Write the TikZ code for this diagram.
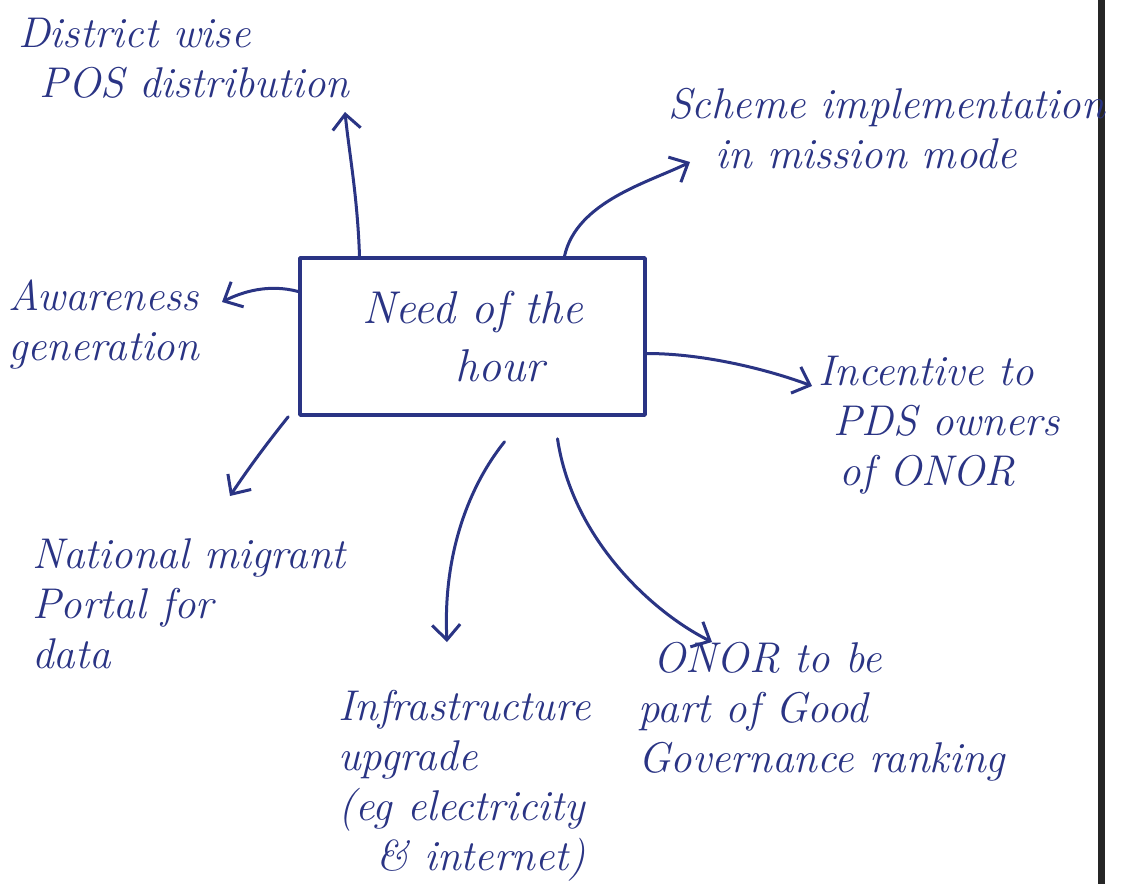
\documentclass[tikz,border=0pt]{standalone}
\usetikzlibrary{arrows.meta}
\definecolor{ink}{RGB}{42,52,132}
\begin{document}
\begin{tikzpicture}[x=1pt,y=-1pt,
  ink/.style={draw=ink,line width=3pt,line cap=round,line join=round},
  link/.style={ink,-{Straight Barb[length=15pt,width=28pt,line width=3pt]}},
  note/.style={text=ink,font=\fontsize{43}{50}\selectfont\itshape,inner sep=0pt},
  hub/.style={ink,line width=3.6pt,minimum width=345pt,minimum height=157pt,
    text=ink,font=\fontsize{46}{58}\selectfont\itshape,align=center}]
\useasboundingbox (0,0) rectangle (1131,884);
\fill[white] (0,0) rectangle (1131,884);
% page edge on the right
\fill[black!85] (1098,0) rectangle (1105,884);

% central box
\node[hub] (box) at (472.5,336.5) {Need of the\\\hspace{1.2em}hour};

% surrounding ideas
\node[note,align=left,anchor=north west] (dist) at (18,18)
  {District wise\\\hspace{0.5em}POS distribution};
\node[note,align=left,anchor=north west] (scheme) at (668,88)
  {Scheme implementation\\\hspace{1.1em}in mission mode};
\node[note,align=left,anchor=north west] (aware) at (8,280)
  {Awareness\\generation};
\node[note,align=left,anchor=north west] (incent) at (818,356)
  {Incentive to\\\hspace{0.35em}PDS owners\\\hspace{0.5em}of ONOR};
\node[note,align=left,anchor=north west] (migrant) at (32,538)
  {National migrant\\Portal for\\data};
\node[note,align=left,anchor=north west] (infra) at (338,690)
  {Infrastructure\\upgrade\\(eg electricity\\\hspace{0.9em}\& internet)};
\node[note,align=left,anchor=north west] (onor) at (638,642)
  {\hspace{0.35em}ONOR to be\\part of Good\\Governance ranking};

% arrow ends
\coordinate (tDist) at (345,112);
\coordinate (tScheme) at (690,162);
\coordinate (tAware) at (222,302);
\coordinate (tIncent) at (812,386);
\coordinate (tMigrant) at (230,496);
\coordinate (tInfra) at (447,642);
\coordinate (tOnor) at (712,642);

% connectors from the box
\draw[link] ([xshift=-113pt]box.north) .. controls +(-2,-60) and +(4,40) .. (tDist);
\draw[link] ([xshift=92pt]box.north) .. controls +(12,-55) and +(-40,20) .. (tScheme);
\draw[link] ([yshift=45pt]box.west) .. controls +(-30,-8) and +(20,-10) .. (tAware);
\draw[link] ([yshift=-17pt]box.east) .. controls +(60,0) and +(-40,-15) .. (tIncent);
\draw[link] ([xshift=-10pt]box.south west) .. controls +(-20,25) and +(20,-30) .. (tMigrant);
\draw[link] ([xshift=32pt,yshift=-25pt]box.south) .. controls +(-40,50) and +(-4,-80) .. (tInfra);
\draw[link] ([xshift=85pt,yshift=-22pt]box.south) .. controls +(15,100) and +(-60,-30) .. (tOnor);
\end{tikzpicture}
\end{document}
